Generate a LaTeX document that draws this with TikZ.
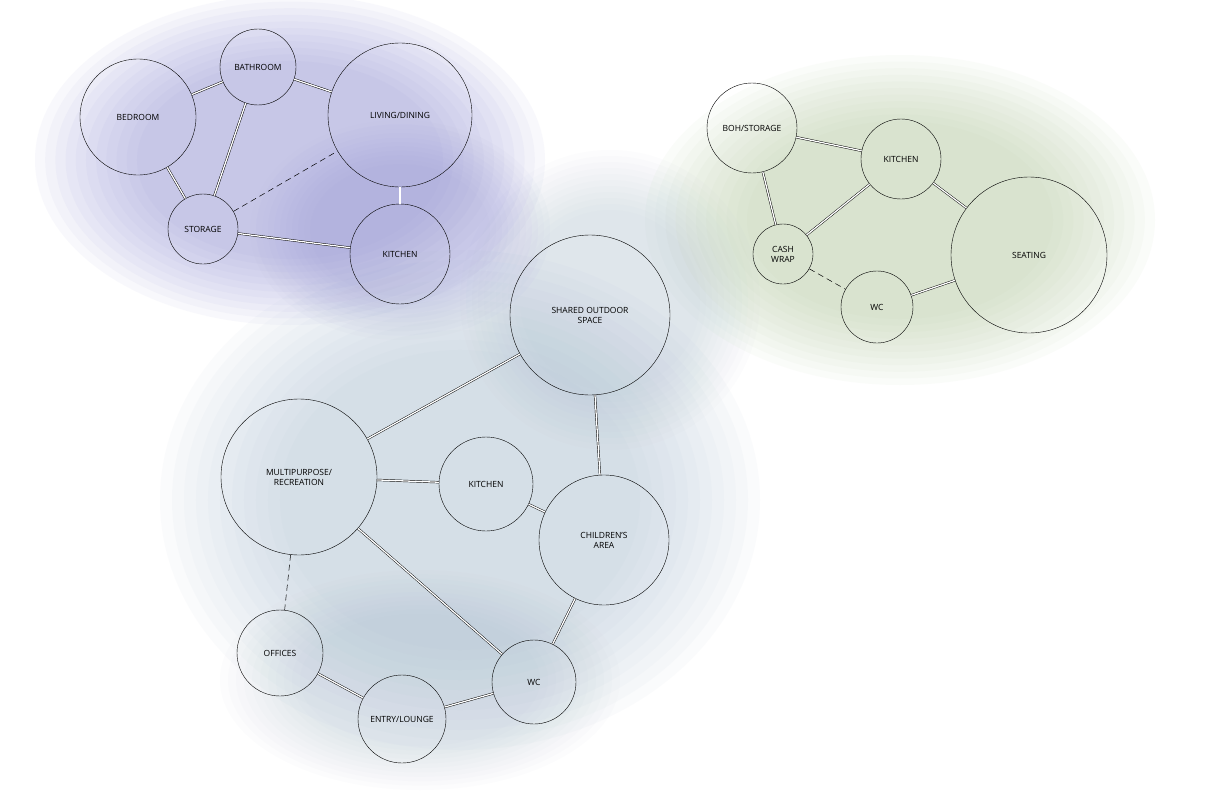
\documentclass[tikz,border=0pt]{standalone}
\usepackage{fontspec}
\setmainfont{Open Sans}
\begin{document}
\begin{tikzpicture}[x=1pt,y=-1pt,
  room/.style={circle,draw=black,line width=0.4pt,inner sep=0pt,align=center,font=\fontsize{8.5}{10}\selectfont},
  link/.style={draw=black,double=white,double distance=1.3pt,line width=0.45pt},
  dlink/.style={draw=black,dashed,dash pattern=on 6pt off 4pt,line width=0.5pt}]
\useasboundingbox (0,0) rectangle (1224,792);
\fill[white] (0,0) rectangle (1224,792);
\definecolor{pur}{RGB}{150,150,215}
\definecolor{grn}{RGB}{185,205,165}
\definecolor{blu}{RGB}{170,190,210}
% blobs
\foreach \s in {1.0,0.96,...,0.6}{
 \fill[pur,opacity=0.06] (290,160) ellipse ({255*\s} and {165*\s});
 \fill[pur,opacity=0.035] (400,230) ellipse ({150*\s} and {110*\s});
 \fill[grn,opacity=0.06] (900,220) ellipse ({255*\s} and {165*\s});
 \fill[blu,opacity=0.05] (460,500) ellipse ({300*\s} and {250*\s});
 \fill[blu,opacity=0.035] (610,300) ellipse ({150*\s} and {150*\s});
 \fill[blu,opacity=0.035] (420,680) ellipse ({200*\s} and {110*\s});
}
% purple group
\node[room,minimum size=116pt] (bed) at (138,117) {BEDROOM};
\node[room,minimum size=76pt] (bath) at (258,67) {BATHROOM};
\node[room,minimum size=144pt] (liv) at (400,115) {LIVING/DINING};
\node[room,minimum size=70pt] (sto) at (203,229) {STORAGE};
\node[room,minimum size=100pt] (kit1) at (400,254) {KITCHEN};
\draw[link] (bed)--(bath); \draw[link] (bath)--(liv); \draw[link] (bath)--(sto);
\draw[link] (bed)--(sto); \draw[dlink] (sto)--(liv); \draw[link] (liv)--(kit1);
\draw[link] (sto)--(kit1);
% green group
\node[room,minimum size=90pt] (boh) at (752,128) {BOH/STORAGE};
\node[room,minimum size=80pt] (kit2) at (901,159) {KITCHEN};
\node[room,minimum size=156pt] (seat) at (1029,255) {SEATING};
\node[room,minimum size=60pt] (cash) at (783,254) {CASH\\WRAP};
\node[room,minimum size=72pt] (wc2) at (877,307) {WC};
\draw[link] (boh)--(kit2); \draw[link] (kit2)--(seat); \draw[link] (boh)--(cash);
\draw[link] (cash)--(kit2); \draw[dlink] (cash)--(wc2); \draw[link] (wc2)--(seat);
% blue group
\node[room,minimum size=160pt] (out) at (590,315) {SHARED OUTDOOR\\SPACE};
\node[room,minimum size=156pt] (multi) at (299,477) {MULTIPURPOSE/\\RECREATION};
\node[room,minimum size=94pt] (kit3) at (486,484) {KITCHEN};
\node[room,minimum size=130pt] (child) at (604,540) {CHILDREN'S\\AREA};
\node[room,minimum size=86pt] (off) at (280,653) {OFFICES};
\node[room,minimum size=88pt] (entry) at (402,719) {ENTRY/LOUNGE};
\node[room,minimum size=84pt] (wc3) at (534,682) {WC};
\draw[link] (out)--(multi); \draw[link] (out)--(child); \draw[link] (multi)--(kit3);
\draw[link] (kit3)--(child); \draw[link] (multi)--(wc3); \draw[dlink] (multi)--(off);
\draw[link] (off)--(entry); \draw[link] (entry)--(wc3); \draw[link] (wc3)--(child);
\end{tikzpicture}
\end{document}
